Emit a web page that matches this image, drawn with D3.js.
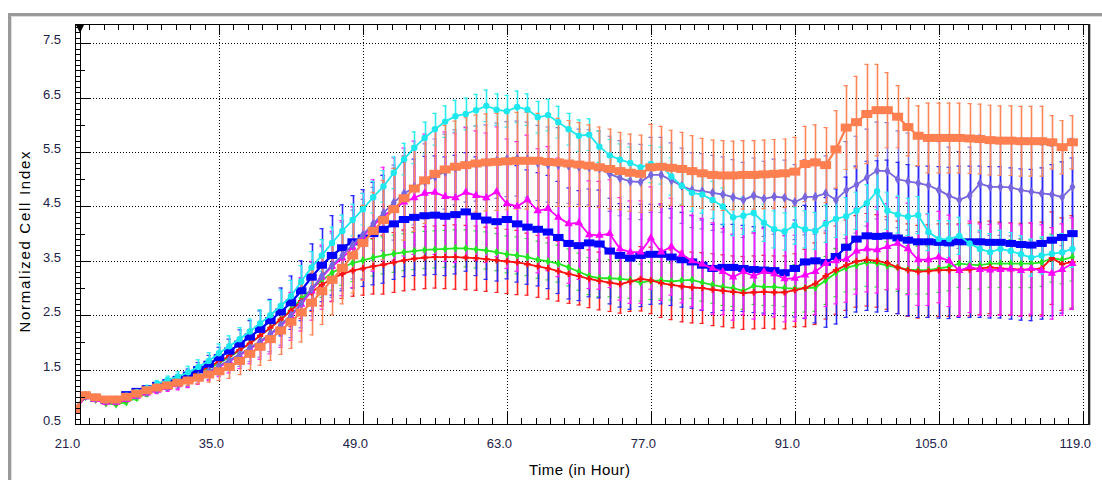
<!DOCTYPE html>
<html><head><meta charset="utf-8">
<script src="https://cdn.jsdelivr.net/npm/d3@7"></script>
<style>body{margin:0;background:#fff}svg{display:block}</style>
</head><body>
<svg id="chart" width="1102" height="480"></svg>
<script>
// ---------------- DATA ----------------
const hours = [21,22,23,24,25,26,27,28,29,30,
 31,32,33,34,35,36,37,38,39,40,
 41,42,43,44,45,46,47,48,49,50,
 51,52,53,54,55,56,57,58,59,60,
 61,62,63,64,65,66,67,68,69,70,
 71,72,73,74,75,76,77,78,79,80,
 81,82,83,84,85,86,87,88,89,90,
 91,92,93,94,95,96,97,98,99,100,
 101,102,103,104,105,106,107,108,109,110,
 111,112,113,114,115,116,117,118];

const orangeMean = [0.78,1.03,0.99,0.95,0.95,1.00,1.06,1.12,1.17,1.21,
 1.26,1.30,1.35,1.41,1.47,1.55,1.66,1.79,1.92,2.06,
 2.22,2.38,2.55,2.73,2.94,3.15,3.37,3.60,3.83,4.05,
 4.25,4.45,4.65,4.83,4.98,5.10,5.18,5.23,5.26,5.29,
 5.31,5.32,5.33,5.34,5.34,5.34,5.32,5.31,5.29,5.27,
 5.25,5.22,5.19,5.15,5.12,5.10,5.22,5.23,5.21,5.19,
 5.15,5.11,5.08,5.07,5.07,5.08,5.08,5.09,5.10,5.11,
 5.14,5.28,5.31,5.26,5.55,5.95,6.05,6.20,6.27,6.27,
 6.15,5.96,5.80,5.76,5.76,5.76,5.76,5.75,5.74,5.72,
 5.71,5.71,5.70,5.70,5.70,5.68,5.59,5.68];
const orangeSD = [0.03,0.03,0.03,0.03,0.03,0.03,0.04,0.05,0.06,0.07,
 0.08,0.10,0.12,0.15,0.18,0.22,0.26,0.30,0.35,0.40,
 0.45,0.50,0.55,0.60,0.62,0.65,0.67,0.70,0.70,0.72,
 0.74,0.76,0.78,0.80,0.80,0.80,0.82,0.85,0.88,0.90,
 0.90,0.90,0.90,0.90,0.90,0.88,0.85,0.82,0.80,0.78,
 0.76,0.75,0.74,0.72,0.72,0.72,0.80,0.75,0.70,0.68,
 0.66,0.65,0.65,0.65,0.64,0.64,0.64,0.64,0.64,0.64,
 0.64,0.70,0.70,0.70,0.72,0.78,0.85,0.92,0.85,0.70,
 0.58,0.54,0.56,0.65,0.65,0.65,0.65,0.65,0.65,0.65,
 0.65,0.65,0.65,0.65,0.65,0.50,0.50,0.50];

const cyanMean = [0.78,1.04,1.00,0.96,0.96,1.02,1.09,1.16,1.24,1.31,
 1.37,1.45,1.55,1.66,1.80,1.93,2.06,2.20,2.35,2.50,
 2.67,2.85,3.12,3.38,3.60,3.83,4.05,4.25,4.45,4.67,
 4.87,5.12,5.37,5.58,5.76,5.92,6.06,6.16,6.20,6.27,
 6.35,6.28,6.25,6.33,6.28,6.14,6.18,6.05,5.92,5.80,
 5.82,5.60,5.44,5.36,5.30,5.22,5.28,5.25,5.05,4.88,
 4.75,4.72,4.62,4.50,4.30,4.33,4.38,4.20,4.08,4.04,
 4.15,4.08,4.05,4.18,4.27,4.32,4.42,4.56,4.78,4.42,
 4.35,4.31,4.34,4.03,3.90,3.90,3.96,3.82,3.72,3.66,
 3.72,3.68,3.62,3.56,3.60,3.63,3.66,3.72];
const cyanSD = [0.03,0.03,0.03,0.03,0.03,0.04,0.05,0.06,0.07,0.08,
 0.10,0.12,0.14,0.16,0.18,0.20,0.22,0.24,0.26,0.28,
 0.30,0.30,0.30,0.30,0.30,0.30,0.30,0.30,0.30,0.30,
 0.30,0.30,0.30,0.30,0.30,0.30,0.30,0.30,0.30,0.30,
 0.30,0.30,0.30,0.30,0.30,0.30,0.30,0.30,0.30,0.30,
 0.30,0.30,0.30,0.30,0.30,0.30,0.35,0.35,0.35,0.35,
 0.35,0.35,0.35,0.35,0.35,0.35,0.35,0.35,0.35,0.35,
 0.35,0.35,0.35,0.35,0.35,0.35,0.35,0.35,0.35,0.35,
 0.35,0.35,0.35,0.35,0.35,0.35,0.35,0.35,0.35,0.35,
 0.35,0.35,0.35,0.35,0.35,0.35,0.35,0.35];

const purpleMean = [0.78,1.02,0.97,0.93,0.93,0.98,1.03,1.09,1.14,1.19,
 1.24,1.30,1.38,1.47,1.57,1.67,1.78,1.90,2.02,2.16,
 2.32,2.50,2.72,2.98,3.22,3.42,3.60,3.80,3.98,4.18,
 4.38,4.57,4.74,4.85,4.96,5.05,5.14,5.22,5.27,5.29,
 5.31,5.34,5.37,5.38,5.36,5.30,5.27,5.26,5.25,5.23,
 5.22,5.20,5.10,5.02,4.96,4.95,5.08,5.08,4.98,4.88,
 4.80,4.78,4.75,4.72,4.67,4.62,4.70,4.64,4.68,4.66,
 4.58,4.67,4.68,4.74,4.62,4.80,4.90,5.03,5.16,5.15,
 5.00,4.96,4.93,4.89,4.80,4.70,4.62,4.70,4.92,4.86,
 4.86,4.85,4.80,4.77,4.74,4.72,4.67,4.86];
const purpleSD = [0.03,0.03,0.03,0.03,0.03,0.04,0.05,0.06,0.07,0.08,
 0.10,0.12,0.14,0.16,0.18,0.20,0.23,0.26,0.30,0.34,
 0.38,0.42,0.46,0.50,0.55,0.60,0.62,0.64,0.66,0.68,
 0.70,0.70,0.70,0.70,0.70,0.70,0.70,0.70,0.70,0.70,
 0.70,0.70,0.70,0.70,0.70,0.70,0.70,0.70,0.70,0.70,
 0.70,0.70,0.70,0.70,0.70,0.70,0.70,0.70,0.70,0.70,
 0.70,0.70,0.70,0.70,0.70,0.70,0.70,0.70,0.70,0.70,
 0.70,0.70,0.70,0.70,0.90,0.90,0.90,0.90,0.90,0.90,
 0.90,0.90,0.90,0.90,0.90,0.90,0.90,0.90,0.90,0.90,
 0.90,0.90,0.90,0.90,0.90,0.90,0.90,0.90];

const blueMean = [0.78,1.02,0.97,0.93,0.95,1.04,1.10,1.15,1.21,1.26,
 1.32,1.40,1.50,1.60,1.72,1.84,1.97,2.10,2.24,2.40,
 2.56,2.73,2.95,3.20,3.42,3.60,3.74,3.85,3.92,4.00,
 4.08,4.18,4.26,4.30,4.33,4.34,4.32,4.35,4.40,4.32,
 4.25,4.22,4.26,4.18,4.12,4.08,4.03,3.93,3.82,3.78,
 3.83,3.81,3.68,3.60,3.55,3.60,3.62,3.62,3.57,3.52,
 3.48,3.42,3.36,3.38,3.38,3.36,3.34,3.33,3.32,3.28,
 3.36,3.48,3.50,3.47,3.58,3.75,3.90,3.96,3.95,3.96,
 3.92,3.88,3.85,3.85,3.84,3.83,3.85,3.85,3.85,3.84,
 3.84,3.82,3.80,3.79,3.82,3.88,3.93,4.00];
const blueSD = [0.03,0.03,0.03,0.03,0.03,0.04,0.05,0.06,0.07,0.08,
 0.10,0.12,0.14,0.17,0.20,0.23,0.27,0.31,0.35,0.40,
 0.45,0.50,0.56,0.62,0.68,0.74,0.80,0.86,0.90,0.95,
 1.00,1.03,1.06,1.08,1.10,1.10,1.10,1.10,1.10,1.10,
 1.10,1.10,1.10,1.08,1.06,1.05,1.05,1.04,1.03,1.02,
 1.00,1.00,0.98,0.96,0.95,0.95,0.93,0.92,0.90,0.88,
 0.86,0.84,0.82,0.80,0.80,0.80,0.80,0.80,0.80,0.80,
 0.90,1.05,1.15,1.20,1.25,1.30,1.35,1.38,1.40,1.40,
 1.40,1.40,1.40,1.40,1.40,1.40,1.40,1.40,1.40,1.40,
 1.40,1.40,1.40,1.40,1.40,1.40,1.40,1.40];

const magentaMean = [0.76,1.00,0.95,0.90,0.90,0.95,1.01,1.07,1.12,1.17,
 1.22,1.28,1.36,1.45,1.55,1.65,1.76,1.88,2.00,2.14,
 2.30,2.48,2.70,2.95,3.20,3.40,3.55,3.75,3.95,4.15,
 4.33,4.45,4.58,4.66,4.74,4.76,4.68,4.66,4.76,4.70,
 4.66,4.77,4.55,4.50,4.62,4.42,4.46,4.30,4.18,4.20,
 3.98,3.97,4.00,3.72,3.66,3.66,3.92,3.66,3.76,3.62,
 3.50,3.44,3.36,3.30,3.20,3.30,3.22,3.30,3.26,3.17,
 3.18,3.24,3.30,3.45,3.50,3.53,3.68,3.72,3.70,3.76,
 3.82,3.72,3.52,3.52,3.57,3.50,3.32,3.39,3.34,3.33,
 3.34,3.35,3.32,3.36,3.32,3.27,3.34,3.45];
const magentaSD = [0.03,0.03,0.03,0.03,0.03,0.04,0.05,0.06,0.07,0.08,
 0.10,0.12,0.14,0.16,0.19,0.22,0.25,0.28,0.32,0.36,
 0.40,0.45,0.50,0.55,0.60,0.65,0.70,0.75,0.80,0.85,
 0.90,0.95,1.00,1.05,1.10,1.15,1.20,1.20,1.20,1.20,
 1.20,1.20,1.20,1.20,1.20,1.15,1.15,1.10,1.10,1.05,
 1.00,1.00,1.00,0.95,0.95,0.95,0.95,0.90,0.90,0.90,
 0.85,0.85,0.85,0.80,0.80,0.80,0.80,0.80,0.80,0.80,
 0.80,0.80,0.80,0.80,0.80,0.80,0.80,0.80,0.80,0.80,
 0.85,0.85,0.85,0.85,0.85,0.85,0.85,0.85,0.85,0.85,
 0.85,0.85,0.85,0.85,0.85,0.85,0.85,0.85];

const greenMean = [0.76,1.00,0.95,0.88,0.86,0.90,0.98,1.06,1.13,1.20,
 1.27,1.35,1.43,1.52,1.62,1.73,1.85,1.98,2.12,2.27,
 2.42,2.60,2.80,2.98,3.14,3.28,3.38,3.46,3.51,3.56,
 3.60,3.63,3.66,3.68,3.70,3.71,3.72,3.73,3.73,3.71,
 3.69,3.66,3.62,3.60,3.57,3.52,3.49,3.45,3.38,3.30,
 3.22,3.18,3.18,3.17,3.15,3.10,3.13,3.14,3.12,3.14,
 3.15,3.10,3.06,3.02,3.00,2.95,3.04,3.02,3.02,3.00,
 2.99,3.00,3.01,3.14,3.28,3.37,3.42,3.47,3.46,3.41,
 3.38,3.34,3.33,3.33,3.36,3.39,3.45,3.43,3.42,3.45,
 3.45,3.45,3.45,3.45,3.47,3.55,3.52,3.57];
const greenSD = [0.03,0.03,0.03,0.03,0.03,0.04,0.05,0.06,0.07,0.08,
 0.09,0.10,0.11,0.12,0.13,0.14,0.16,0.18,0.20,0.22,
 0.24,0.26,0.28,0.30,0.32,0.33,0.34,0.35,0.35,0.35,
 0.35,0.35,0.35,0.35,0.35,0.35,0.35,0.35,0.35,0.35,
 0.35,0.35,0.35,0.35,0.35,0.35,0.35,0.35,0.35,0.35,
 0.35,0.35,0.35,0.35,0.35,0.35,0.35,0.35,0.35,0.35,
 0.35,0.35,0.35,0.35,0.35,0.35,0.35,0.35,0.35,0.35,
 0.45,0.45,0.45,0.45,0.45,0.45,0.45,0.45,0.45,0.45,
 0.45,0.45,0.45,0.45,0.45,0.45,0.45,0.45,0.45,0.45,
 0.45,0.45,0.45,0.45,0.45,0.45,0.45,0.45];

const redMean = [0.76,1.00,0.95,0.90,0.90,0.95,1.02,1.09,1.16,1.23,
 1.30,1.38,1.46,1.55,1.65,1.75,1.86,1.98,2.12,2.27,
 2.42,2.58,2.76,2.92,3.06,3.17,3.26,3.32,3.36,3.40,
 3.43,3.47,3.51,3.54,3.56,3.57,3.57,3.57,3.56,3.55,
 3.53,3.51,3.49,3.47,3.44,3.40,3.36,3.31,3.26,3.22,
 3.17,3.13,3.10,3.07,3.12,3.17,3.14,3.09,3.06,3.03,
 3.01,3.00,2.97,2.95,2.93,2.91,2.92,2.93,2.92,2.92,
 2.96,3.00,3.08,3.22,3.33,3.42,3.49,3.52,3.50,3.46,
 3.38,3.33,3.30,3.31,3.33,3.33,3.33,3.34,3.36,3.38,
 3.36,3.35,3.34,3.34,3.36,3.55,3.44,3.48];
const redSD = [0.03,0.03,0.03,0.03,0.03,0.04,0.05,0.06,0.07,0.08,
 0.09,0.10,0.11,0.12,0.14,0.16,0.18,0.20,0.22,0.25,
 0.28,0.30,0.33,0.36,0.40,0.43,0.46,0.48,0.50,0.52,
 0.55,0.56,0.57,0.58,0.58,0.58,0.59,0.60,0.60,0.60,
 0.60,0.60,0.60,0.60,0.58,0.58,0.57,0.56,0.55,0.54,
 0.54,0.54,0.54,0.54,0.56,0.60,0.62,0.64,0.65,0.66,
 0.66,0.66,0.67,0.67,0.67,0.68,0.68,0.68,0.68,0.68,
 0.68,0.72,0.76,0.80,0.82,0.84,0.85,0.86,0.86,0.86,
 0.86,0.86,0.86,0.86,0.86,0.86,0.86,0.86,0.86,0.86,
 0.86,0.86,0.86,0.86,0.86,0.86,0.86,0.86];

const xTickValues = [21, 35, 49, 63, 77, 91, 105, 119];
const xTickLabels = ["21.0","35.0","49.0","63.0","77.0","91.0","105.0","119.0"];
const yTickValues = [0.5, 1.5, 2.5, 3.5, 4.5, 5.5, 6.5, 7.5];
const yTickLabels = ["0.5","1.5","2.5","3.5","4.5","5.5","6.5","7.5"];
const xAxisTitle = "Time (in Hour)";
const yAxisTitle = "Normalized Cell Index";

// ---------------- LAYOUT ----------------
const L = 75, R = 1088.5, T = 24, B = 424;
const x = d3.scaleLinear().domain([21, 119]).range([75, 1082.7]);
const y = d3.scaleLinear().domain([0.5, 7.5]).range([424, 43.3]);
const svg = d3.select("#chart");

// outer panel frame (gray)
svg.append("rect").attr("x", 8).attr("y", 13).attr("width", 1102).attr("height", 3).attr("fill", "#9a9a9a");
svg.append("rect").attr("x", 8).attr("y", 13).attr("width", 3).attr("height", 480).attr("fill", "#9a9a9a");
svg.append("rect").attr("x", 11).attr("y", 16).attr("width", 1).attr("height", 470).attr("fill", "#dcdcdc");
svg.append("rect").attr("x", 11).attr("y", 16).attr("width", 1100).attr("height", 1).attr("fill", "#dcdcdc");

const clip = svg.append("defs").append("clipPath").attr("id", "plotclip");
clip.append("rect").attr("x", L).attr("y", T).attr("width", R - L).attr("height", B - T);

// grid lines (dotted)
const grid = svg.append("g").attr("shape-rendering", "crispEdges");
yTickValues.filter(v => v > 0.5).forEach(v => {
  grid.append("line").attr("x1", L).attr("x2", R).attr("y1", Math.round(y(v)) + 0.5).attr("y2", Math.round(y(v)) + 0.5)
    .attr("stroke", "#000").attr("stroke-width", 1).attr("stroke-dasharray", "1,2");
});
xTickValues.filter(v => v > 21).forEach(v => {
  grid.append("line").attr("y1", T).attr("y2", B).attr("x1", Math.round(x(v)) + 0.5).attr("x2", Math.round(x(v)) + 0.5)
    .attr("stroke", "#000").attr("stroke-width", 1).attr("stroke-dasharray", "1,2");
});

// ---------------- SERIES ----------------
const purple  = {color: "#7766dd", bar: "#8474e4", mean: purpleMean, sd: purpleSD, marker: "diamond", size: 30, lw: 1.8};
const green   = {color: "#22e622", bar: "#2ee82e", mean: greenMean, sd: greenSD, marker: "diamond", size: 22, lw: 1.8};
const red     = {color: "#ff1010", bar: "#ff2222", mean: redMean, sd: redSD, marker: "cross", size: 22, lw: 1.8};
const blue    = {color: "#0000ff", bar: "#2a2aff", mean: blueMean, sd: blueSD, marker: "square", w: 10.5, h: 7, lw: 2.2};
const magenta = {color: "#ff00ff", bar: "#ff1aff", mean: magentaMean, sd: magentaSD, marker: "triangle", size: 30, lw: 1.8};
const cyan    = {color: "#1ee8ee", bar: "#2aecf0", mean: cyanMean, sd: cyanSD, marker: "circle", r: 3.2, lw: 1.8};
const orange  = {color: "#ff7f50", bar: "#ff8658", mean: orangeMean, sd: orangeSD, marker: "square", w: 11, h: 8, lw: 2.2};

const barOrder  = [purple, green, red, blue, magenta, cyan, orange];
const lineOrder = [green, red, blue, magenta, purple, cyan, orange];

const plot = svg.append("g").attr("clip-path", "url(#plotclip)");

// error bars
barOrder.forEach(s => {
  const g = plot.append("g").attr("stroke", s.bar);
  hours.forEach((t, i) => {
    const px = Math.round(x(t)) + 0.5;
    const lo = y(s.mean[i] - s.sd[i]), hi = y(s.mean[i] + s.sd[i]);
    g.append("line").attr("x1", px).attr("x2", px).attr("y1", lo).attr("y2", hi).attr("stroke-width", 1.6);
    g.append("line").attr("x1", px - 3).attr("x2", px + 1).attr("y1", hi + 0.5).attr("y2", hi + 0.5).attr("stroke-width", 1.2);
    g.append("line").attr("x1", px - 3).attr("x2", px + 1).attr("y1", lo - 0.5).attr("y2", lo - 0.5).attr("stroke-width", 1.2);
  });
});

// lines + markers
const lineGen = d3.line().x(d => x(d[0])).y(d => y(d[1]));
lineOrder.forEach(s => {
  const pts = hours.map((t, i) => [t, s.mean[i]]);
  plot.append("path").attr("d", lineGen(pts)).attr("fill", "none").attr("stroke", s.color).attr("stroke-width", s.lw);
  const g = plot.append("g").attr("fill", s.color);
  pts.forEach(p => {
    const px = x(p[0]), py = y(p[1]);
    if (s.marker === "square") {
      g.append("rect").attr("x", px - s.w / 2).attr("y", py - s.h / 2).attr("width", s.w).attr("height", s.h);
    } else if (s.marker === "circle") {
      g.append("circle").attr("cx", px).attr("cy", py).attr("r", s.r);
    } else {
      const type = {diamond: d3.symbolDiamond, cross: d3.symbolCross, triangle: d3.symbolTriangle}[s.marker];
      g.append("path").attr("d", d3.symbol(type, s.size)()).attr("transform", `translate(${px},${py})`);
    }
  });
});

// ---------------- AXES ----------------
const ax = svg.append("g").attr("stroke", "#000").attr("shape-rendering", "crispEdges");
ax.append("line").attr("x1", L).attr("x2", R + 1).attr("y1", T + 0.5).attr("y2", T + 0.5);
ax.append("line").attr("x1", L).attr("x2", R + 1).attr("y1", B + 0.5).attr("y2", B + 0.5);
ax.append("line").attr("x1", R + 0.5).attr("x2", R + 0.5).attr("y1", T).attr("y2", B + 1).attr("stroke", "#222").attr("stroke-width", 1.5);
ax.append("line").attr("x1", R + 2).attr("x2", R + 2).attr("y1", T).attr("y2", B + 1).attr("stroke", "#bbb");
// left axis ladder
ax.append("line").attr("x1", L + 0.5).attr("x2", L + 0.5).attr("y1", T).attr("y2", B + 1).attr("stroke-width", 1.5);
ax.append("line").attr("x1", L + 5.5).attr("x2", L + 5.5).attr("y1", T + 1).attr("y2", B + 1);
const yMinor = d3.range(5, 79).map(k => k / 10);
yMinor.forEach(v => {
  const py = Math.round(y(v)) + 0.5;
  const isHalf = Math.abs(v * 2 - Math.round(v * 2)) < 1e-6 && Math.abs(v - Math.round(v)) > 1e-6;
  const isInt = Math.abs(v - Math.round(v)) < 1e-6;
  const len = isHalf ? 15 : (isInt ? 10 : 5);
  ax.append("line").attr("x1", L).attr("x2", L + len).attr("y1", py).attr("y2", py);
});
// x ticks (top + bottom), 10 minor per major
d3.range(0, 71).forEach(k => {
  const t = 21 + k * 1.4;
  const px = Math.round(x(t)) + 0.5;
  const major = k % 10 === 0;
  ax.append("line").attr("x1", px).attr("x2", px).attr("y1", T).attr("y2", T + (major ? 11 : 6));
  ax.append("line").attr("x1", px).attr("x2", px).attr("y1", B - (major ? 12 : 6)).attr("y2", B);
});
// small triangle marker top-left
svg.append("path").attr("d", "M76,25 L84,25 L80,33 Z").attr("fill", "#000");

// tick labels
const font = "'Liberation Sans', Arial, sans-serif";
svg.append("g").selectAll("text").data(xTickValues).join("text")
  .attr("x", d => x(d) - 7.5).attr("y", 448).attr("text-anchor", "middle")
  .attr("font-family", font).attr("font-size", 13).attr("fill", "#1c2248")
  .text((d, i) => xTickLabels[i]);
svg.append("g").selectAll("text").data(yTickValues).join("text")
  .attr("x", 61).attr("y", d => y(d) + 1).attr("text-anchor", "end")
  .attr("font-family", font).attr("font-size", 13).attr("fill", "#1c2248")
  .text((d, i) => yTickLabels[i]);

// axis titles
svg.append("text").attr("x", 579.5).attr("y", 475).attr("text-anchor", "middle")
  .attr("font-family", font).attr("font-size", 15).attr("fill", "#000")
  .attr("textLength", 101).attr("lengthAdjust", "spacing").text(xAxisTitle);
svg.append("text").attr("transform", "translate(30,242) rotate(-90)").attr("text-anchor", "middle")
  .attr("font-family", font).attr("font-size", 15).attr("fill", "#000")
  .attr("textLength", 181).attr("lengthAdjust", "spacing").text(yAxisTitle);
</script>
</body></html>
